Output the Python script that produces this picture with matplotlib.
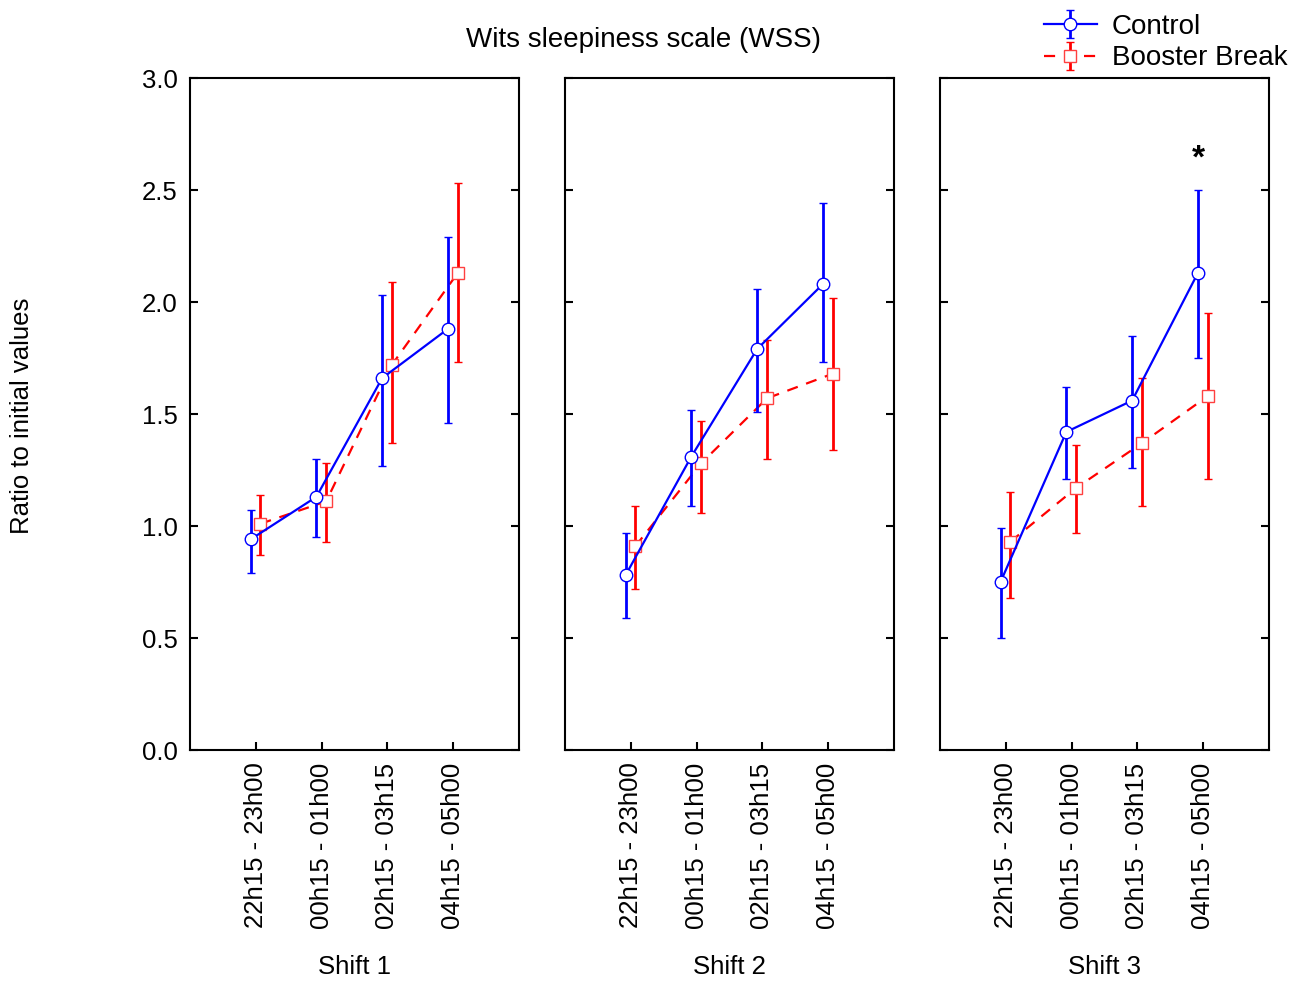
import matplotlib.pyplot as plt
import numpy as np

plt.rcParams['font.family'] = ['Liberation Sans', 'DejaVu Sans']

times = ['22h15 - 23h00', '00h15 - 01h00', '02h15 - 03h15', '04h15 - 05h00']
shifts = ['Shift 1', 'Shift 2', 'Shift 3']

# means and error bar ends, one list per shift
control_mean = [[0.94, 1.13, 1.66, 1.88],
                [0.78, 1.31, 1.79, 2.08],
                [0.75, 1.42, 1.56, 2.13]]
control_hi = [[1.07, 1.30, 2.03, 2.29],
              [0.97, 1.52, 2.06, 2.44],
              [0.99, 1.62, 1.85, 2.50]]
control_lo = [[0.79, 0.95, 1.27, 1.46],
              [0.59, 1.09, 1.51, 1.73],
              [0.50, 1.21, 1.26, 1.75]]

booster_mean = [[1.01, 1.11, 1.72, 2.13],
                [0.91, 1.28, 1.57, 1.68],
                [0.93, 1.17, 1.37, 1.58]]
booster_hi = [[1.14, 1.28, 2.09, 2.53],
              [1.09, 1.47, 1.83, 2.02],
              [1.15, 1.36, 1.66, 1.95]]
booster_lo = [[0.87, 0.93, 1.37, 1.73],
              [0.72, 1.06, 1.30, 1.34],
              [0.68, 0.97, 1.09, 1.21]]

W, H = 1308, 983
fig = plt.figure(figsize=(W / 100, H / 100), dpi=100)

x = np.arange(len(times))
lefts = [190, 565, 940]
axes = []
for i in range(3):
    ax = fig.add_axes([lefts[i] / W, 1 - 750 / H, 329 / W, 672 / H])
    axes.append(ax)
    cm = np.array(control_mean[i])
    bm = np.array(booster_mean[i])
    cerr = [cm - np.array(control_lo[i]), np.array(control_hi[i]) - cm]
    berr = [bm - np.array(booster_lo[i]), np.array(booster_hi[i]) - bm]

    ax.errorbar(x - 0.08, cm, yerr=cerr, color='#0000ff', lw=1.6, ls='-',
                marker='o', ms=9, mfc='white', mec='#0000ff', mew=1.0,
                elinewidth=2.0, capsize=3, capthick=2.0, label='Control', zorder=3)
    ax.errorbar(x + 0.07, bm, yerr=berr, color='#ff0000', lw=1.6, ls=(0, (5, 4)),
                marker='s', ms=9, mfc='white', mec='#ff4040', mew=1.0,
                elinewidth=2.0, capsize=3, capthick=2.0, label='Booster Break', zorder=2)

    ax.set_xlim(-1, 4)
    ax.set_ylim(0, 3.0)
    ax.set_xticks(x)
    ax.set_xticklabels(times, rotation=90, fontsize=18.5)
    ax.set_yticks(np.arange(0, 3.01, 0.5))
    ax.tick_params(axis='both', direction='in', length=6, width=1.5, pad=9)
    ax.tick_params(axis='y', right=True)
    if i == 0:
        ax.set_yticklabels(['%.1f' % v for v in np.arange(0, 3.01, 0.5)], fontsize=18.5)
    else:
        ax.set_yticklabels([])
    for s in ax.spines.values():
        s.set_linewidth(1.5)
    ax.set_xlabel(shifts[i], fontsize=18.5, labelpad=19)

axes[2].text(3 - 0.08, 2.64, '*', ha='center', va='center', fontsize=24, fontweight='bold')

fig.text(643 / W, 1 - 40 / H, 'Wits sleepiness scale (WSS)', ha='center', va='center', fontsize=20)
fig.text(22 / W, 1 - 416 / H, 'Ratio to initial values', ha='center', va='center',
         rotation=90, fontsize=18.5)

h, l = axes[0].get_legend_handles_labels()
fig.legend(h, l, loc='upper right', bbox_to_anchor=(0.995, 1.0), frameon=False,
           fontsize=20, handlelength=1.9, handletextpad=0.55, labelspacing=0.2,
           borderaxespad=0.1)

fig.savefig('out.png', dpi=100)
